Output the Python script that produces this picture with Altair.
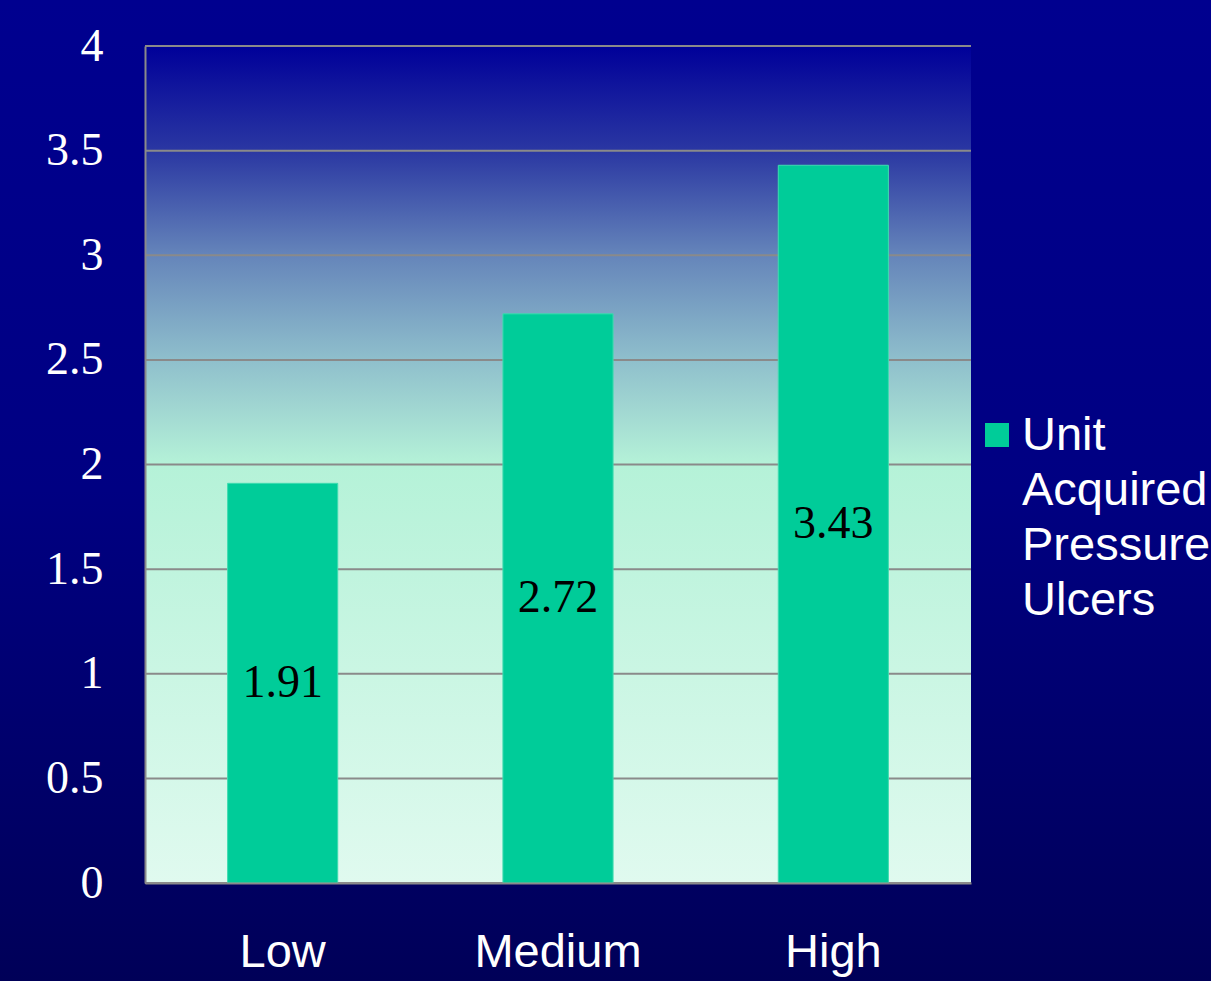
import altair as alt
import pandas as pd

# ---- data ----
categories = ["Low", "Medium", "High"]
values = [1.91, 2.72, 3.43]
y_ticks = [0, 0.5, 1, 1.5, 2, 2.5, 3, 3.5, 4]
legend_label = "Unit\nAcquired\nPressure\nUlcers"

W, H = 826, 837
PAD = {"left": 145, "top": 46, "right": 240, "bottom": 98}

bars_df = pd.DataFrame({"cat": categories, "v": values})
grid_df = pd.DataFrame({"v": y_ticks})
one = pd.DataFrame({"k": [0]})

ydom = alt.Scale(domain=[0, 4], nice=False)
xscale = alt.Scale(domain=categories, paddingInner=0.6, paddingOuter=0.3)

yaxis = alt.Axis(values=y_ticks, format="~g", labelFont="Liberation Serif", labelFontSize=46,
                 labelColor="white", ticks=False, grid=False, labelPadding=42,
                 domain=True, domainColor="#8a8a8a", domainWidth=2,
                 labelOverlap=False, labelFlush=False, zindex=2)

page_grad = alt.LinearGradient(
    gradient="linear", x1=0, x2=0, y1=0, y2=1,
    stops=[alt.GradientStop(color="#00008f", offset=0),
           alt.GradientStop(color="#000082", offset=0.5),
           alt.GradientStop(color="#000058", offset=1)])

plot_grad = alt.LinearGradient(
    gradient="linear", x1=0, x2=0, y1=0, y2=1,
    stops=[alt.GradientStop(color="#000099", offset=0),
           alt.GradientStop(color="#2a37a2", offset=0.125),
           alt.GradientStop(color="#6585ba", offset=0.25),
           alt.GradientStop(color="#8fbfcc", offset=0.375),
           alt.GradientStop(color="#b5f2d8", offset=0.5),
           alt.GradientStop(color="#e0faef", offset=1)])

page_bg = alt.Chart(one).mark_rect(color=page_grad).encode(
    x=alt.value(-PAD["left"]), x2=alt.value(W + PAD["right"]),
    y=alt.value(-PAD["top"]), y2=alt.value(H + PAD["bottom"]))

plot_bg = alt.Chart(one).mark_rect(color=plot_grad).encode(
    x=alt.value(0), x2=alt.value(W), y=alt.value(0), y2=alt.value(H))

grid = alt.Chart(grid_df).mark_rule(color="#8a8a8a", strokeWidth=2).encode(
    y=alt.Y("v:Q", scale=ydom, title=None, axis=yaxis))

bars = alt.Chart(bars_df).mark_bar(color="#00cc99", stroke="#3fdcb0", strokeWidth=1).encode(
    x=alt.X("cat:N", scale=xscale, sort=categories, title=None,
            axis=alt.Axis(labelFont="Liberation Sans", labelFontSize=47, labelColor="white",
                          labelAngle=0, ticks=False, labelPadding=46, domain=True,
                          domainColor="#8a8a8a", domainWidth=2, zindex=2)),
    y=alt.Y("v:Q", scale=ydom, title=None, axis=yaxis))

labels = alt.Chart(bars_df).transform_calculate(mid="datum.v / 2").mark_text(
    font="Liberation Serif", fontSize=46, color="black", baseline="middle").encode(
    x=alt.X("cat:N", scale=xscale, sort=categories),
    y=alt.Y("mid:Q", scale=ydom),
    text=alt.Text("v:Q", format=".2f"))

leg_sym = alt.Chart(one).mark_rect(color="#00cc99").encode(
    x=alt.value(840), x2=alt.value(864), y=alt.value(377), y2=alt.value(401))

leg_txt = alt.Chart(one).mark_text(
    font="Liberation Sans", fontSize=47, color="white", align="left",
    baseline="alphabetic", lineBreak="\n", lineHeight=55).encode(
    x=alt.value(877), y=alt.value(404), text=alt.value(legend_label))

chart = alt.layer(page_bg, plot_bg, grid, bars, labels, leg_sym, leg_txt).properties(
    width=W, height=H,
    autosize=alt.AutoSizeParams(type="none"),
    padding=PAD,
    background="#000080",
).configure_view(stroke=None)

chart.save("out.html", embed_options={"renderer": "svg", "actions": False})
